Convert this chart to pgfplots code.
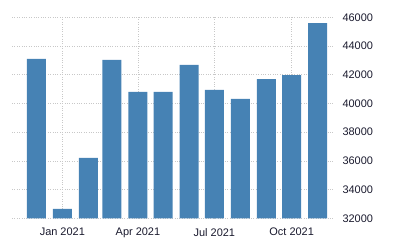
\documentclass[border=0pt]{standalone}
\usepackage{pgfplots}
\pgfplotsset{compat=1.18}
\usepackage{fontspec}
\setmainfont{Liberation Sans}
\definecolor{barblue}{HTML}{4682B4}
\definecolor{gridgray}{HTML}{C8C8C8}
\definecolor{ticktext}{HTML}{1A1A2E}
\begin{document}
\begin{tikzpicture}
\begin{axis}[
  scale only axis,
  width=321bp, height=201bp,
  xmin=-59.9, xmax=322.2,
  ymin=32000, ymax=46000,
  axis line style={draw=none},
  tick style={draw=none},
  xtick={0,90,181,273},
  xticklabels={Jan 2021,Apr 2021,Jul 2021,Oct 2021},
  ytick={32000,34000,...,46000},
  yticklabel pos=right,
  scaled y ticks=false,
  /pgf/number format/.cd, set thousands separator={}, assume math mode=true,
  /pgfplots/.cd,
  ticklabel style={font=\fontsize{11}{13}\selectfont, text=ticktext},
  xticklabel style={yshift=-2bp},
  yticklabel style={anchor=west, xshift=6bp},
  grid=major,
  major grid style={gridgray, dotted, line width=0.7pt},
  ybar, bar width=22.6, bar shift=0pt,
  axis on top=false,
]
\addplot[fill=barblue, draw=none] coordinates {
 (-31,43100) (0,32650) (31,36200) (59,43030) (90,40800) (120,40800)
 (151,42680) (181,40940) (212,40310) (243,41700) (273,41980) (304,45600)
};
\end{axis}
\pgfresetboundingbox
\path (-12bp,-31.7bp) rectangle (388bp,218.3bp);
\end{tikzpicture}
\end{document}
